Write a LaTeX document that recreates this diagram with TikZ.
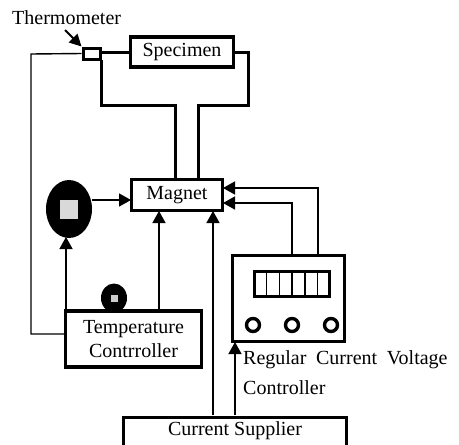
\documentclass[tikz,border=0pt]{standalone}
\usepackage{fontspec}
\setmainfont{Liberation Serif}
\usetikzlibrary{arrows.meta,shapes.geometric}
\tikzset{
 thickbox/.style={draw=black,line width=3.2pt,fill=white,inner sep=0pt,align=center,font=\fontsize{20}{24}\selectfont},
 lbl/.style={inner sep=0pt,anchor=west,font=\fontsize{20}{24}\selectfont},
 thin wire/.style={draw=black,line width=1.4pt},
 fat wire/.style={draw=black,line width=3pt},
 arr/.style={draw=black,line width=1.5pt,-{Triangle[length=12pt,width=13pt]}}
}
\begin{document}
\begin{tikzpicture}[x=1pt,y=-1pt]
\useasboundingbox (0,0) rectangle (459,445);
\fill[white] (0,0) rectangle (459,445);
% boxes
\node[thickbox,minimum width=103pt,minimum height=30pt] (spec) at (182,52) {Specimen};
\node[draw=black,line width=3pt,fill=white,minimum width=17pt,minimum height=11pt,inner sep=0pt] (therm) at (91.5,53.5) {};
\node[thickbox,minimum width=91pt,minimum height=31pt] (mag) at (177,195) {Magnet};
\node[thickbox,minimum width=136pt,minimum height=56pt] (tc) at (133.5,339) {Temperature\\Contrroller};
\node[draw=black,line width=3.2pt,fill=white,minimum width=112pt,minimum height=86pt,inner sep=0pt] (reg) at (288.5,298.5) {};
\node[draw=black,line width=2.6pt,fill=white,anchor=north,minimum width=223pt,minimum height=34pt,inner sep=0pt] (sup) at (235,416) {};
\node[inner sep=0pt,font=\fontsize{20}{24}\selectfont] (suplbl) at (235,431) {Current Supplier};
% labels
\node[lbl] (tl) at (12,18) {Thermometer};
\node[lbl] (r1) at (243,360) {\spaceskip=0.48em Regular Current Voltage};
\node[lbl] (r2) at (243,388) {Controller};
% blobs
\node[ellipse,fill=black,minimum width=46pt,minimum height=58pt,inner sep=0pt] (bulb) at (69,209) {};
\node[fill=white!85!black,minimum width=18pt,minimum height=19pt,inner sep=0pt] (bulbin) at (69,209) {};
\node[ellipse,fill=black,minimum width=26pt,minimum height=29pt,inner sep=0pt] (lamp) at (114,298) {};
\node[fill=white!80!black,minimum width=7pt,minimum height=7pt,inner sep=0pt] (lampin) at (114,298) {};
% display
\node[draw=black,line width=3pt,fill=white,minimum width=75pt,minimum height=25pt,inner sep=0pt] (disp) at (292,283.5) {};
\foreach \i in {1,...,5}{\draw[line width=1.4pt] (254+\i*12.7,271) -- (254+\i*12.7,296);}
\foreach \n/\x in {a/253,b/292,c/331}{\node[circle,draw=black,line width=3.4pt,fill=white,minimum size=13pt,inner sep=0pt] (k\n) at (\x,325) {};}
% wires
\coordinate (w1) at (101,105); \coordinate (w2) at (175,105);
\coordinate (w3) at (198,105); \coordinate (w4) at (248,105); \coordinate (w5) at (248,52);
\draw[fat wire] (100,52) -- (spec.west);
\draw[fat wire] (101,60) -- (w1) -- (w2) -- (175,179);
\draw[fat wire] (198,179) -- (w3) -- (w4) -- (w5) -- (spec.east);
\draw[thin wire] (therm.west) -- (31,54) -- (31,334) -- (65,334);
% arrows
\coordinate (at) at (65,30);
\draw[line width=2pt,-{Triangle[length=12pt,width=12pt]}] (at) -- (therm.north west);
\draw[arr] (92,200) -- (131,200);
\draw[arr] (66,311) -- (66,237);
\draw[arr] (159,311) -- (159,211);
\draw[arr] (213,415) -- (213,211);
\draw[arr] (235,415) -- (235,342);
\draw[arr] (292,255) -- (292,203) -- (223,203);
\draw[arr] (318,255) -- (318,188) -- (223,188);
\end{tikzpicture}
\end{document}
